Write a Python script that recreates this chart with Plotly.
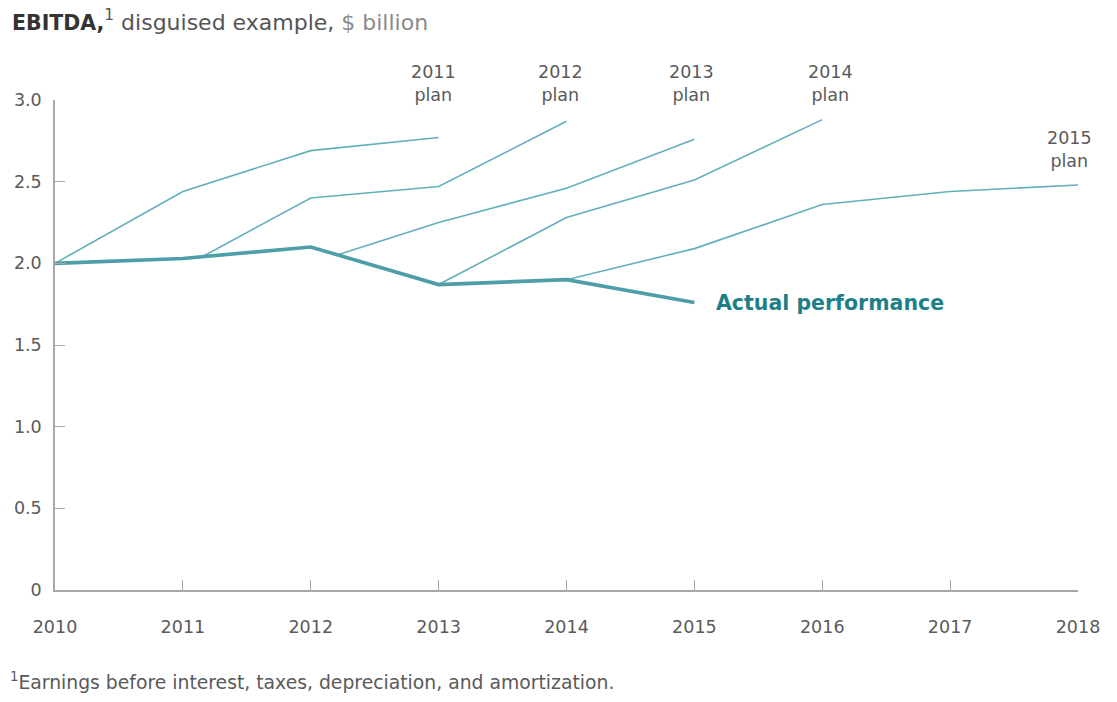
import plotly.graph_objects as go

# Actual EBITDA, $ billion
actual_years = [2010, 2011, 2012, 2013, 2014, 2015]
actual_values = [2.00, 2.03, 2.10, 1.87, 1.90, 1.76]

# Successive plans (each starts where it branches off the actual line)
plan_names = ["2011", "2012", "2013", "2014", "2015"]
plan_2011_x = [2010, 2011, 2012, 2013]
plan_2011_y = [2.00, 2.44, 2.69, 2.77]
plan_2012_x = [2011.15, 2012, 2013, 2014]
plan_2012_y = [2.04, 2.40, 2.47, 2.87]
plan_2013_x = [2012.2, 2013, 2014, 2015]
plan_2013_y = [2.05, 2.25, 2.46, 2.76]
plan_2014_x = [2013, 2014, 2015, 2016]
plan_2014_y = [1.87, 2.28, 2.51, 2.88]
plan_2015_x = [2014, 2015, 2016, 2017, 2018]
plan_2015_y = [1.90, 2.09, 2.36, 2.44, 2.48]

x_ticks = [2010, 2011, 2012, 2013, 2014, 2015, 2016, 2017, 2018]
y_ticks = [0, 0.5, 1.0, 1.5, 2.0, 2.5, 3.0]
y_tick_text = ["0", "0.5", "1.0", "1.5", "2.0", "2.5", "3.0"]

plans = [
    (plan_2011_x, plan_2011_y),
    (plan_2012_x, plan_2012_y),
    (plan_2013_x, plan_2013_y),
    (plan_2014_x, plan_2014_y),
    (plan_2015_x, plan_2015_y),
]

FONT = "DejaVu Sans, Verdana, sans-serif"
PLAN_COLOR = "#62b0ba"
ACTUAL_COLOR = "#4d9ea8"
LABEL_TEAL = "#1f7f89"
GREY_TEXT = "#5a5a5a"
AXIS_GREY = "#a8a8a8"

fig = go.Figure()

for (px, py), name in zip(plans, plan_names):
    fig.add_trace(go.Scatter(
        x=px, y=py, mode="lines", name=f"{name} plan",
        line=dict(color=PLAN_COLOR, width=1.6),
        showlegend=False, hoverinfo="skip",
    ))

fig.add_trace(go.Scatter(
    x=actual_years, y=actual_values, mode="lines", name="Actual performance",
    line=dict(color=ACTUAL_COLOR, width=3.6),
    showlegend=False, hoverinfo="skip",
))

# Plan labels: the first four sit in a row above the plot, the last one
# just above its final point
label_shift = [-5, -6, -3, 8, -9]
for (px, py), name, dx in zip(plans, plan_names, label_shift):
    if name != "2015":
        ypos, yref = 1.0327, "paper"
    else:
        ypos, yref = py[-1] + 0.22, "y"
    fig.add_annotation(
        x=px[-1], y=ypos, xref="x", yref=yref, xshift=dx,
        text=f"{name}<br>plan", showarrow=False,
        xanchor="center", yanchor="middle", align="center",
        font=dict(family=FONT, size=17.5, color=GREY_TEXT),
    )

fig.add_annotation(
    x=actual_years[-1], y=actual_values[-1], xref="x", yref="y",
    xshift=20, xanchor="left", yanchor="middle",
    text="<b>Actual performance</b>", showarrow=False,
    font=dict(family=FONT, size=20.5, color=LABEL_TEAL),
)

fig.add_annotation(
    x=-0.0459, y=-0.185, xref="paper", yref="paper",
    xanchor="left", yanchor="middle", showarrow=False,
    text="<sup>1</sup>Earnings before interest, taxes, depreciation, and amortization.",
    font=dict(family=FONT, size=18.8, color=GREY_TEXT),
)

fig.update_layout(
    width=1117, height=702,
    margin=dict(l=55, r=39, t=100, b=112),
    paper_bgcolor="white", plot_bgcolor="white",
    title=dict(
        text=("<b><span style='color:#333333;font-size:20.5px'>EBITDA,</span></b>"
              "<sup>1</sup> disguised example, "
              "<span style='color:#8a8a8a'>$ billion</span>"),
        x=12 / 1117, xref="container", xanchor="left",
        y=1 - 22 / 702, yref="container", yanchor="middle",
        font=dict(family=FONT, size=22, color="#555555"),
    ),
    font=dict(family=FONT, color=GREY_TEXT),
)

fig.update_xaxes(
    range=[2010, 2018], tickvals=x_ticks, ticktext=[str(v) for v in x_ticks],
    showgrid=False, zeroline=False,
    showline=True, linecolor=AXIS_GREY, linewidth=1.5,
    ticks="inside", ticklen=10, tickwidth=1.3, tickcolor=AXIS_GREY,
    ticklabelstandoff=20,
    tickfont=dict(family=FONT, size=17.5, color=GREY_TEXT),
)
fig.update_yaxes(
    range=[0, 3], tickvals=y_ticks, ticktext=y_tick_text,
    showgrid=False, zeroline=False,
    showline=True, linecolor=AXIS_GREY, linewidth=1.5,
    ticks="inside", ticklen=10, tickwidth=1.3, tickcolor=AXIS_GREY,
    ticklabelstandoff=8,
    tickfont=dict(family=FONT, size=17.5, color=GREY_TEXT),
)

fig.write_html("out.html")
